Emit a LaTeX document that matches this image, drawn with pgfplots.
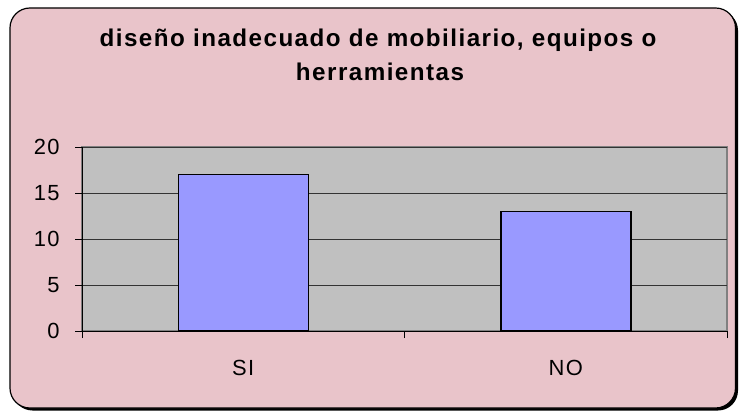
\documentclass[border=0pt]{standalone}
\usepackage{fontspec}
\setmainfont{Liberation Sans}
\newfontfamily\spacedfont[LetterSpace=6]{Liberation Sans}
\usepackage{pgfplots}
\pgfplotsset{compat=1.18}
\definecolor{bgpink}{RGB}{233,196,202}
\definecolor{plotgray}{RGB}{192,192,192}
\definecolor{barblue}{RGB}{153,153,255}
\begin{document}
\begin{tikzpicture}[x=1bp,y=1bp]
\useasboundingbox (0,0) rectangle (739,412);
\fill[black, rounded corners=20] (12.5,1.5) rectangle (738,401.5);
\filldraw[fill=bgpink, draw=black, line width=1.2pt, rounded corners=20] (10,4) rectangle (735.5,404);
\node[anchor=base, font=\spacedfont\bfseries\fontsize{24.3}{24}\selectfont] at (378,366) {diseño inadecuado de mobiliario, equipos o};
\node[anchor=base, font=\spacedfont\bfseries\fontsize{24.3}{24}\selectfont] at (380,332) {herramientas};
\begin{axis}[
  at={(82bp,81bp)}, anchor=south west,
  scale only axis, width=645bp, height=184bp,
  xmin=0.5, xmax=2.5, ymin=0, ymax=20,
  axis lines=left, axis line style={-, draw=black, line width=0.9pt},
  axis background/.style={fill=plotgray, draw=gray, line width=1.2pt},
  ytick={0,5,10,15,20},
  ymajorgrids, grid style={draw=black!80, line width=0.9pt},
  xtick={0.5,1.5,2.5}, xticklabels={SI,NO}, x tick label as interval,
  tick align=outside, major tick length=7bp,
  tick style={draw=black, line width=0.9pt},
  /pgf/number format/assume math mode=true,
  yticklabel style={font=\spacedfont\fontsize{22}{22}\selectfont, xshift=-12bp},
  xticklabel style={font=\spacedfont\fontsize{22}{22}\selectfont, yshift=-19bp},
  ybar, bar width=130bp,
]
\addplot[fill=barblue, draw=black, line width=1.5pt] coordinates {(1,17) (2,13)};
\end{axis}
\end{tikzpicture}
\end{document}
